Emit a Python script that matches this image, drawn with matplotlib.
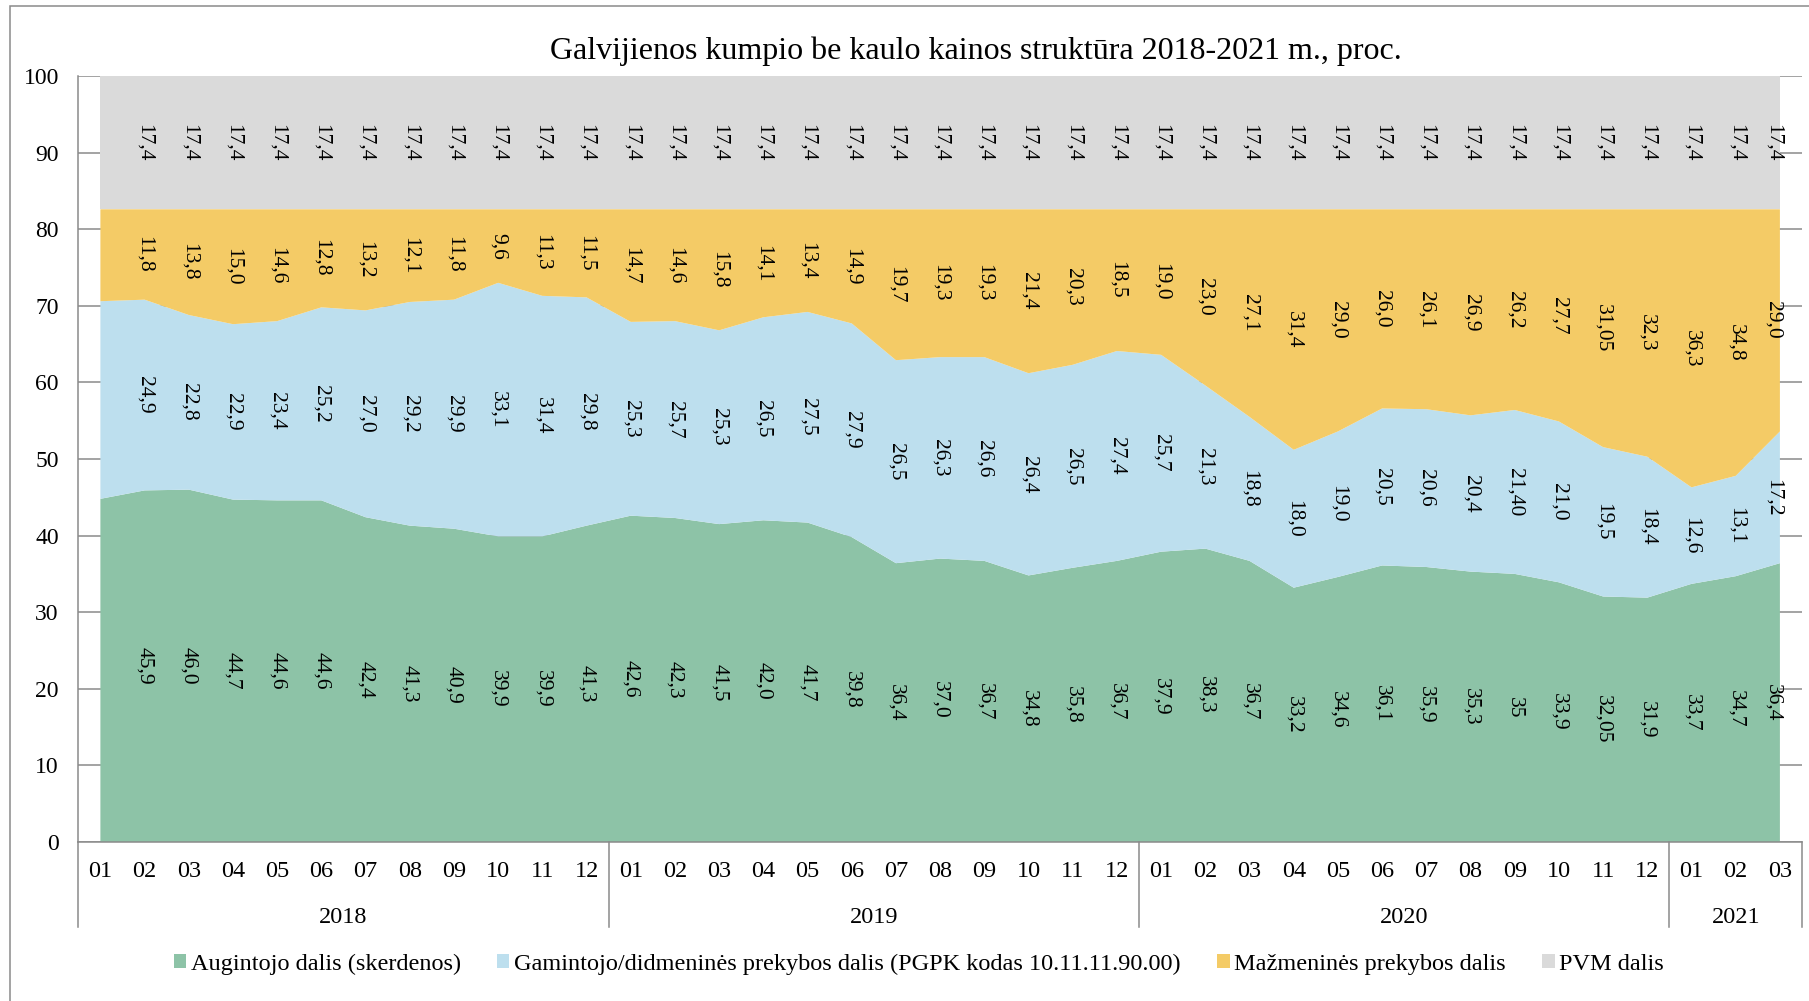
import matplotlib
matplotlib.use("Agg")
import matplotlib.pyplot as plt
from matplotlib.patches import Rectangle

plt.rcParams['font.family'] = ['Liberation Serif', 'DejaVu Serif']

# month labels on the x axis, 2018-01 .. 2021-03
months = ["01", "02", "03", "04", "05", "06", "07", "08", "09", "10", "11", "12",
          "01", "02", "03", "04", "05", "06", "07", "08", "09", "10", "11", "12",
          "01", "02", "03", "04", "05", "06", "07", "08", "09", "10", "11", "12",
          "01", "02", "03"]
years = ["2018", "2019", "2020", "2021"]
year_len = [12, 12, 12, 3]

# values as printed on the chart (first month has no label)
augintojo = ["44,8", "45,9", "46,0", "44,7", "44,6", "44,6", "42,4", "41,3", "40,9", "39,9", "39,9", "41,3",
             "42,6", "42,3", "41,5", "42,0", "41,7", "39,8", "36,4", "37,0", "36,7", "34,8", "35,8", "36,7",
             "37,9", "38,3", "36,7", "33,2", "34,6", "36,1", "35,9", "35,3", "35", "33,9", "32,05", "31,9",
             "33,7", "34,7", "36,4"]
gamintojo = ["25,8", "24,9", "22,8", "22,9", "23,4", "25,2", "27,0", "29,2", "29,9", "33,1", "31,4", "29,8",
             "25,3", "25,7", "25,3", "26,5", "27,5", "27,9", "26,5", "26,3", "26,6", "26,4", "26,5", "27,4",
             "25,7", "21,3", "18,8", "18,0", "19,0", "20,5", "20,6", "20,4", "21,40", "21,0", "19,5", "18,4",
             "12,6", "13,1", "17,2"]
mazmenine = ["12,0", "11,8", "13,8", "15,0", "14,6", "12,8", "13,2", "12,1", "11,8", "9,6", "11,3", "11,5",
             "14,7", "14,6", "15,8", "14,1", "13,4", "14,9", "19,7", "19,3", "19,3", "21,4", "20,3", "18,5",
             "19,0", "23,0", "27,1", "31,4", "29,0", "26,0", "26,1", "26,9", "26,2", "27,7", "31,05", "32,3",
             "36,3", "34,8", "29,0"]
pvm = ["17,4", "17,4", "17,4", "17,4", "17,4", "17,4", "17,4", "17,4", "17,4", "17,4", "17,4", "17,4",
       "17,4", "17,4", "17,4", "17,4", "17,4", "17,4", "17,4", "17,4", "17,4", "17,4", "17,4", "17,4",
       "17,4", "17,4", "17,4", "17,4", "17,4", "17,4", "17,4", "17,4", "17,4", "17,4", "17,4", "17,4",
       "17,4", "17,4", "17,4"]
first_labelled = 1

names = ["Augintojo dalis (skerdenos)",
         "Gamintojo/didmeninės prekybos dalis (PGPK kodas 10.11.11.90.00)",
         "Mažmeninės prekybos dalis",
         "PVM dalis"]
colors = ["#8DC3A7", "#BDDFEE", "#F4CB66", "#DADADA"]

series_txt = [augintojo, gamintojo, mazmenine, pvm]
series = [[float(s.replace(",", ".")) for s in ser] for ser in series_txt]
x = list(range(len(months)))

fig = plt.figure(figsize=(18.09, 10.01), dpi=100)
ax = fig.add_axes([78.3 / 1809, 1 - 842 / 1001, (1802 - 78.3) / 1809, 766 / 1001])

ax.stackplot(x, *series, colors=colors, labels=names, linewidth=0)

ax.set_xlim(-0.5, len(x) - 0.5)
ax.set_ylim(0, 100)
ax.set_yticks(range(0, 101, 10))
ax.set_axisbelow(True)
ax.grid(axis="y", color="#8a8a8a", linewidth=1.1)
ax.grid(axis="x", visible=False)
for side in ["top", "right"]:
    ax.spines[side].set_visible(False)
for side in ["left", "bottom"]:
    ax.spines[side].set_color("#8a8a8a")
    ax.spines[side].set_linewidth(1.1)
ax.tick_params(axis="y", length=0, pad=14, labelsize=17)
ax.set_xticks(x)
ax.set_xticklabels(months)
ax.tick_params(axis="x", length=0, pad=14, labelsize=17.5)

# data labels, centred in each band (last column nudged inside the plot)
bottom = [0.0] * len(x)
for ser, txt in zip(series, series_txt):
    for i in range(first_labelled, len(x)):
        xi = x[i] - 0.16 if i == len(x) - 1 else x[i]
        ax.text(xi, bottom[i] + ser[i] / 2, txt[i], rotation=270,
                ha="center", va="center", fontsize=15.5)
    bottom = [b + v for b, v in zip(bottom, ser)]

# year groups below the month labels
trans = ax.get_xaxis_transform()
start = -0.5
ax.plot([start, start], [0, -0.111], transform=trans, color="#8a8a8a", lw=1.1, clip_on=False)
for yr, n in zip(years, year_len):
    end = start + n
    ax.plot([end, end], [0, -0.111], transform=trans, color="#8a8a8a", lw=1.1, clip_on=False)
    ax.text((start + end) / 2, -0.098, yr, transform=trans, ha="center", va="center", fontsize=17.5)
    start = end

fig.text(0.5397, 0.949, "Galvijienos kumpio be kaulo kainos struktūra 2018-2021 m., proc.",
         ha="center", va="center", fontsize=23)

fig.legend(loc="center", bbox_to_anchor=(0.508, 0.037), ncol=4, frameon=False,
           fontsize=17.5, handlelength=0.5, handleheight=0.5, handletextpad=0.2,
           columnspacing=1.5)

fig.patches.append(Rectangle((10 / 1809, -0.05), 1.2, 0.05 + 1 - 5.7 / 1001,
                             transform=fig.transFigure, fill=False,
                             edgecolor="#8a8a8a", linewidth=1.1))

fig.savefig("out.png", dpi=100)
